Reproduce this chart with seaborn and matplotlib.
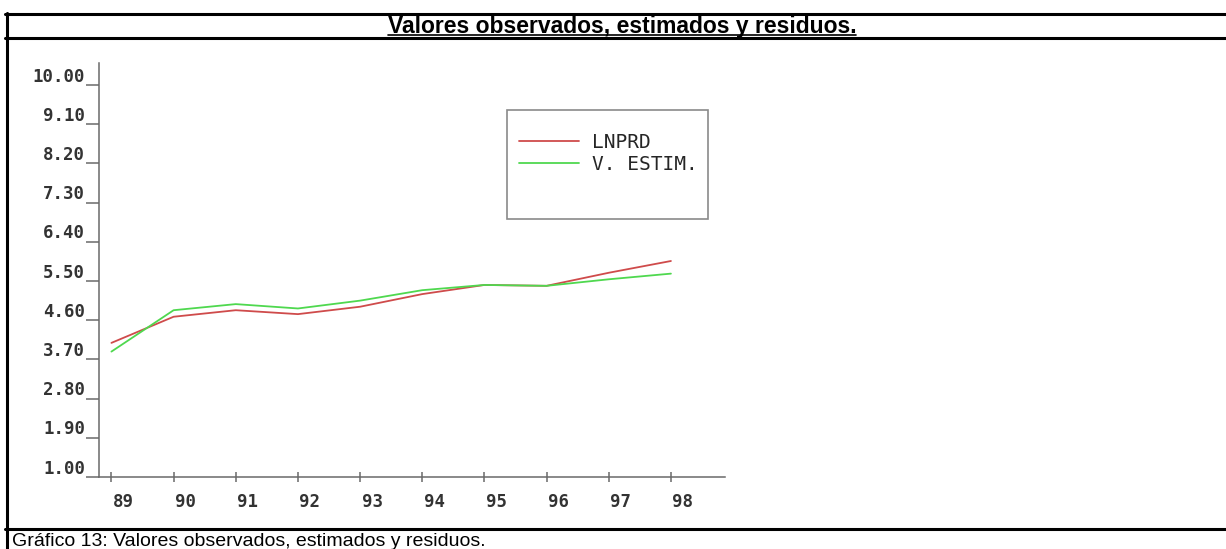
import pandas as pd
import seaborn as sns
import matplotlib.pyplot as plt
import matplotlib.transforms as mtransforms
from matplotlib.lines import Line2D
from matplotlib.patches import Rectangle

# datos
years = [89, 90, 91, 92, 93, 94, 95, 96, 97, 98]
year_labels = ['89', '90', '91', '92', '93', '94', '95', '96', '97', '98']
lnprd = [4.08, 4.68, 4.83, 4.74, 4.91, 5.20, 5.41, 5.39, 5.69, 5.96]
v_estim = [3.88, 4.83, 4.97, 4.87, 5.05, 5.29, 5.41, 5.39, 5.54, 5.67]
series_names = ['LNPRD', 'V. ESTIM.']
y_ticks = [1.00, 1.90, 2.80, 3.70, 4.60, 5.50, 6.40, 7.30, 8.20, 9.10, 10.00]
y_tick_labels = ['1.00', '1.90', '2.80', '3.70', '4.60', '5.50',
                 '6.40', '7.30', '8.20', '9.10', '10.00']

title_text = 'Valores observados, estimados y residuos.'
caption_text = 'Gráfico 13: Valores observados, estimados y residuos.'

sns.set_style('white')
plt.rcParams['font.family'] = ['DejaVu Sans Mono']

W, H = 1226, 549
fig = plt.figure(figsize=(W / 100, H / 100), dpi=100)


def fx(px):
    return px / W


def fy(py):
    return 1 - py / H


ax = fig.add_axes([fx(99), fy(477), fx(725) - fx(99), fy(63.3) - fy(477)])

df = pd.DataFrame({
    'year': years + years,
    'valor': lnprd + v_estim,
    'serie': [series_names[0]] * len(years) + [series_names[1]] * len(years),
})
sns.lineplot(data=df, x='year', y='valor', hue='serie',
             palette=['#cf4b4b', '#4fd84f'], linewidth=1.3, ax=ax, legend=False)

ax.set_xlim(88.8, 98.87)
ax.set_ylim(1.0, 10.5)
ax.set_xlabel('')
ax.set_ylabel('')
ax.set_xticks(years)
ax.set_xticklabels(year_labels)
ax.set_yticks(y_ticks)
ax.set_yticklabels(y_tick_labels)

for s in ['top', 'right']:
    ax.spines[s].set_visible(False)
for s in ['left', 'bottom']:
    ax.spines[s].set_color('#6a6a6a')
    ax.spines[s].set_linewidth(1.1)

ax.tick_params(axis='y', left=True, direction='out', length=9.4, width=1.1,
               color='#6a6a6a', pad=0.5, labelsize=12.5, labelcolor='#333333')
ax.tick_params(axis='x', bottom=True, direction='inout', length=6.5, width=1.1,
               color='#6a6a6a', pad=8.3, labelsize=12.5, labelcolor='#333333')

# etiquetas desplazadas como en el original
dy = mtransforms.ScaledTranslation(0, 10.5 / 100, fig.dpi_scale_trans)
for lab in ax.get_yticklabels():
    lab.set_transform(lab.get_transform() + dy)
    lab.set_fontweight('bold')
dx = mtransforms.ScaledTranslation(12 / 100, 0, fig.dpi_scale_trans)
for lab in ax.get_xticklabels():
    lab.set_transform(lab.get_transform() + dx)
    lab.set_fontweight('bold')

# leyenda
fig.add_artist(Rectangle((fx(507), fy(219)), fx(708) - fx(507), fy(110) - fy(219),
                         transform=fig.transFigure, fill=False,
                         edgecolor='#8a8a8a', linewidth=1.2))
fig.legend(ax.lines[:2], series_names, loc='upper left',
           bbox_to_anchor=(fx(519), fy(132.5)), frameon=False,
           borderpad=0, borderaxespad=0, handlelength=3.1, handletextpad=0.67,
           labelspacing=0.17, prop={'family': 'DejaVu Sans Mono', 'size': 14})

# marco del cuadro
lw = 2.2
fig.add_artist(Line2D([fx(5), 1], [fy(14.3)] * 2, lw=lw, color='black', transform=fig.transFigure))
fig.add_artist(Line2D([fx(5), 1], [fy(38)] * 2, lw=lw, color='black', transform=fig.transFigure))
fig.add_artist(Line2D([fx(5), 1], [fy(528.5)] * 2, lw=lw, color='black', transform=fig.transFigure))
fig.add_artist(Line2D([fx(6.6)] * 2, [fy(13), 0], lw=lw, color='black', transform=fig.transFigure))

title = fig.text(fx(622), fy(33.3), title_text, ha='center', va='baseline',
                 fontsize=16.5, fontweight='bold', family='Liberation Sans', color='black')
fig.text(fx(12), fy(546), caption_text, ha='left', va='baseline',
         fontsize=14, family='Liberation Sans', color='black')

# subrayado del titulo
fig.canvas.draw()
bb = title.get_window_extent()
fig.add_artist(Line2D([bb.x0 / W, bb.x1 / W], [fy(35)] * 2, lw=1.2,
                      color='black', transform=fig.transFigure))

fig.savefig('out.png', dpi=100)
